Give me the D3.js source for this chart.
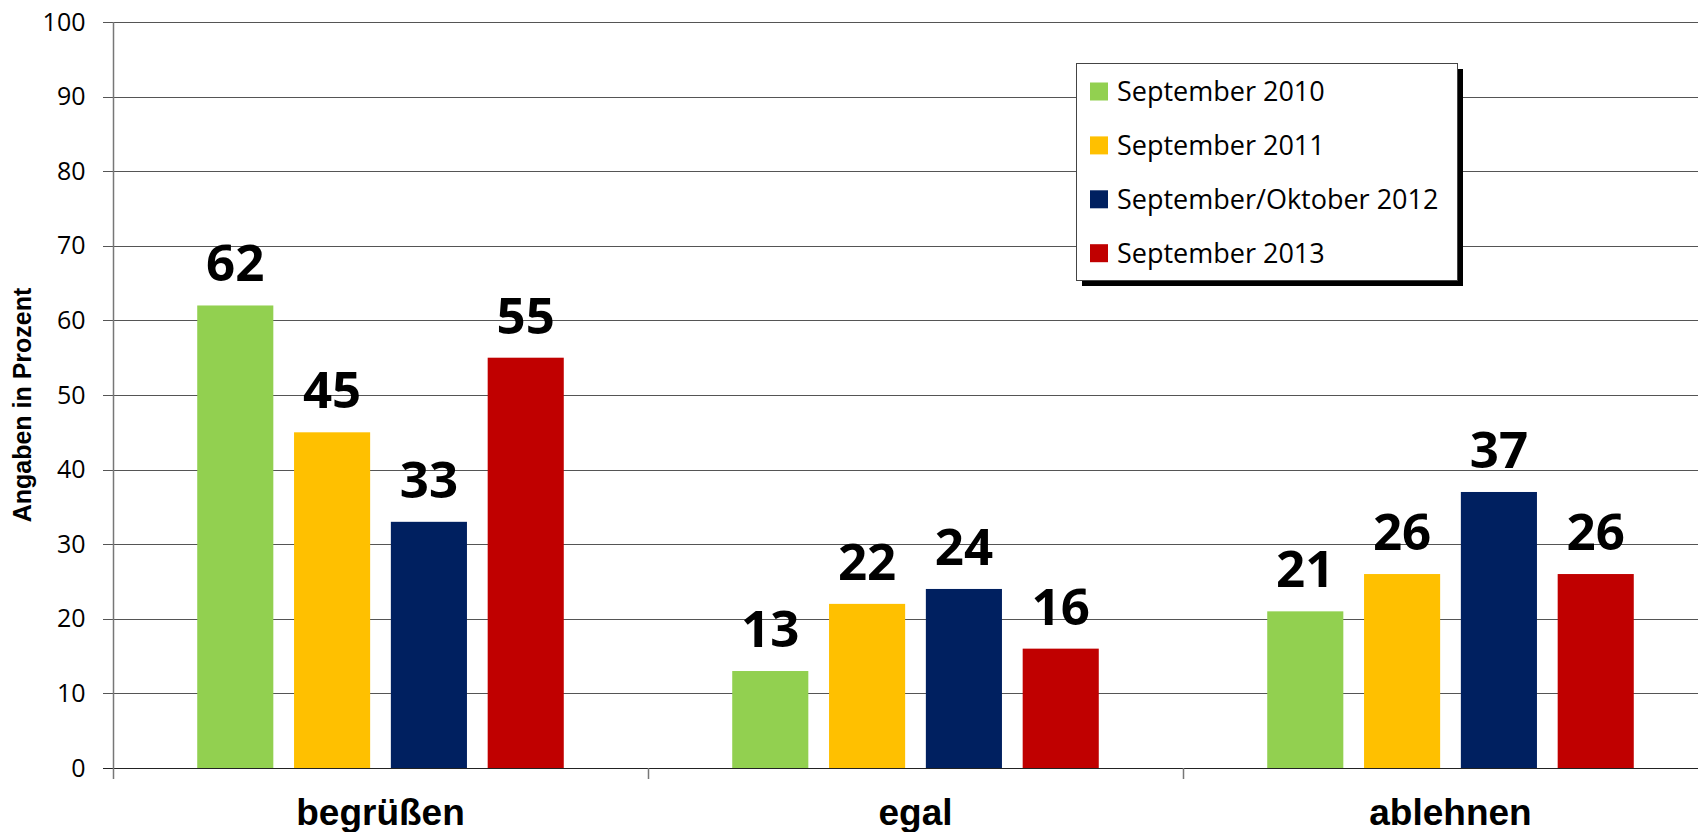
<!DOCTYPE html>
<html>
<head>
<meta charset="utf-8">
<script src="https://cdn.jsdelivr.net/npm/d3@7"></script>
<style>
  html, body { margin: 0; padding: 0; background: #fff; overflow: hidden; }
</style>
</head>
<body>
<svg id="chart"></svg>
<script>
// chart data
const categories = ["begrüßen", "egal", "ablehnen"];
const seriesNames = ["September 2010", "September 2011", "September/Oktober 2012", "September 2013"];
const seriesColors = ["#92D050", "#FFC000", "#002060", "#C00000"];
const values2010 = [62, 13, 21];
const values2011 = [45, 22, 26];
const values2012 = [33, 24, 37];
const values2013 = [55, 16, 26];
const yTicks = [0, 10, 20, 30, 40, 50, 60, 70, 80, 90, 100];

const allValues = [values2010, values2011, values2012, values2013];

const width = 1698;
const height = 832;

const svg = d3.select("#chart")
    .attr("width", width)
    .attr("height", height);

// scales
const x = d3.scaleBand()
    .domain(categories)
    .range([113, 1718])
    .paddingInner(0)
    .paddingOuter(0);

const xSeries = d3.scaleBand()
    .domain(seriesNames)
    .range([0, x.bandwidth()])
    .paddingInner(0.214)
    .paddingOuter(0.87);

const y = d3.scaleLinear()
    .domain([0, 100])
    .range([768, 22]);

// gridlines
svg.append("g")
    .selectAll("line")
    .data(yTicks)
    .enter()
    .append("line")
    .attr("x1", 103)
    .attr("x2", width)
    .attr("y1", d => Math.round(y(d)) + 0.5)
    .attr("y2", d => Math.round(y(d)) + 0.5)
    .attr("stroke", d => d === 0 ? "#222" : "#555")
    .attr("stroke-width", 1);

// y axis
const yAxis = svg.append("g")
    .attr("transform", "translate(113.5,0)")
    .call(d3.axisLeft(y).tickValues(yTicks).tickSize(0).tickPadding(28));
yAxis.select(".domain").remove();
yAxis.selectAll("text")
    .style("font-family", "'Open Sans', sans-serif")
    .style("font-size", "25px")
    .attr("fill", "#000");

svg.append("line")
    .attr("x1", 113.5).attr("x2", 113.5)
    .attr("y1", y(100)).attr("y2", 779)
    .attr("stroke", "#777")
    .attr("stroke-width", 1.5);

// category separators
svg.append("g")
    .selectAll("line")
    .data(categories.slice(1))
    .enter()
    .append("line")
    .attr("x1", d => Math.round(x(d)) + 0.5)
    .attr("x2", d => Math.round(x(d)) + 0.5)
    .attr("y1", y(0))
    .attr("y2", 779)
    .attr("stroke", "#777")
    .attr("stroke-width", 1.5);

// category labels
svg.append("g")
    .selectAll("text")
    .data(categories)
    .enter()
    .append("text")
    .attr("x", d => x(d) + x.bandwidth() / 2)
    .attr("y", 825)
    .attr("text-anchor", "middle")
    .style("font-family", "'Liberation Sans', Arial, sans-serif")
    .style("font-weight", "bold")
    .style("font-size", "37px")
    .text(d => d);

// bars
const groups = svg.append("g")
    .selectAll("g")
    .data(seriesNames)
    .enter()
    .append("g")
    .attr("fill", (d, i) => seriesColors[i]);

groups.selectAll("rect")
    .data((s, si) => categories.map((c, ci) => ({ cat: c, series: s, value: allValues[si][ci] })))
    .enter()
    .append("rect")
    .attr("x", d => x(d.cat) + xSeries(d.series))
    .attr("y", d => y(d.value))
    .attr("width", xSeries.bandwidth())
    .attr("height", d => y(0) - y(d.value));

// value labels
groups.selectAll("text")
    .data((s, si) => categories.map((c, ci) => ({ cat: c, series: s, value: allValues[si][ci] })))
    .enter()
    .append("text")
    .attr("x", d => x(d.cat) + xSeries(d.series) + xSeries.bandwidth() / 2)
    .attr("y", d => y(d.value) - 24)
    .attr("text-anchor", "middle")
    .attr("fill", "#000")
    .style("font-family", "'Open Sans', sans-serif")
    .style("font-weight", "bold")
    .style("font-size", "51px")
    .text(d => d.value);

// y axis title
svg.append("text")
    .attr("transform", "translate(31,405) rotate(-90)")
    .attr("text-anchor", "middle")
    .style("font-family", "'Liberation Sans', Arial, sans-serif")
    .style("font-weight", "bold")
    .style("font-size", "25px")
    .text("Angaben in Prozent");

// legend
const legendX = 1076, legendY = 63, legendW = 381, legendH = 217;
const legend = svg.append("g");
legend.append("rect")
    .attr("x", legendX + 6).attr("y", legendY + 6)
    .attr("width", legendW).attr("height", legendH)
    .attr("fill", "#000");
legend.append("rect")
    .attr("x", legendX + 0.5).attr("y", legendY + 0.5)
    .attr("width", legendW).attr("height", legendH)
    .attr("fill", "#fff")
    .attr("stroke", "#444")
    .attr("stroke-width", 1);

const legendItem = legend.selectAll(".item")
    .data(seriesNames)
    .enter()
    .append("g")
    .attr("class", "item")
    .attr("transform", (d, i) => "translate(" + (legendX + 14) + "," + (legendY + 28.5 + i * 53.9) + ")");

legendItem.append("rect")
    .attr("x", 0).attr("y", -9)
    .attr("width", 18).attr("height", 18)
    .attr("fill", (d, i) => seriesColors[i]);

legendItem.append("text")
    .attr("x", 27)
    .attr("y", 0)
    .attr("dy", "0.35em")
    .style("font-family", "'Open Sans', sans-serif")
    .style("font-size", "27px")
    .text(d => d);
</script>
</body>
</html>
